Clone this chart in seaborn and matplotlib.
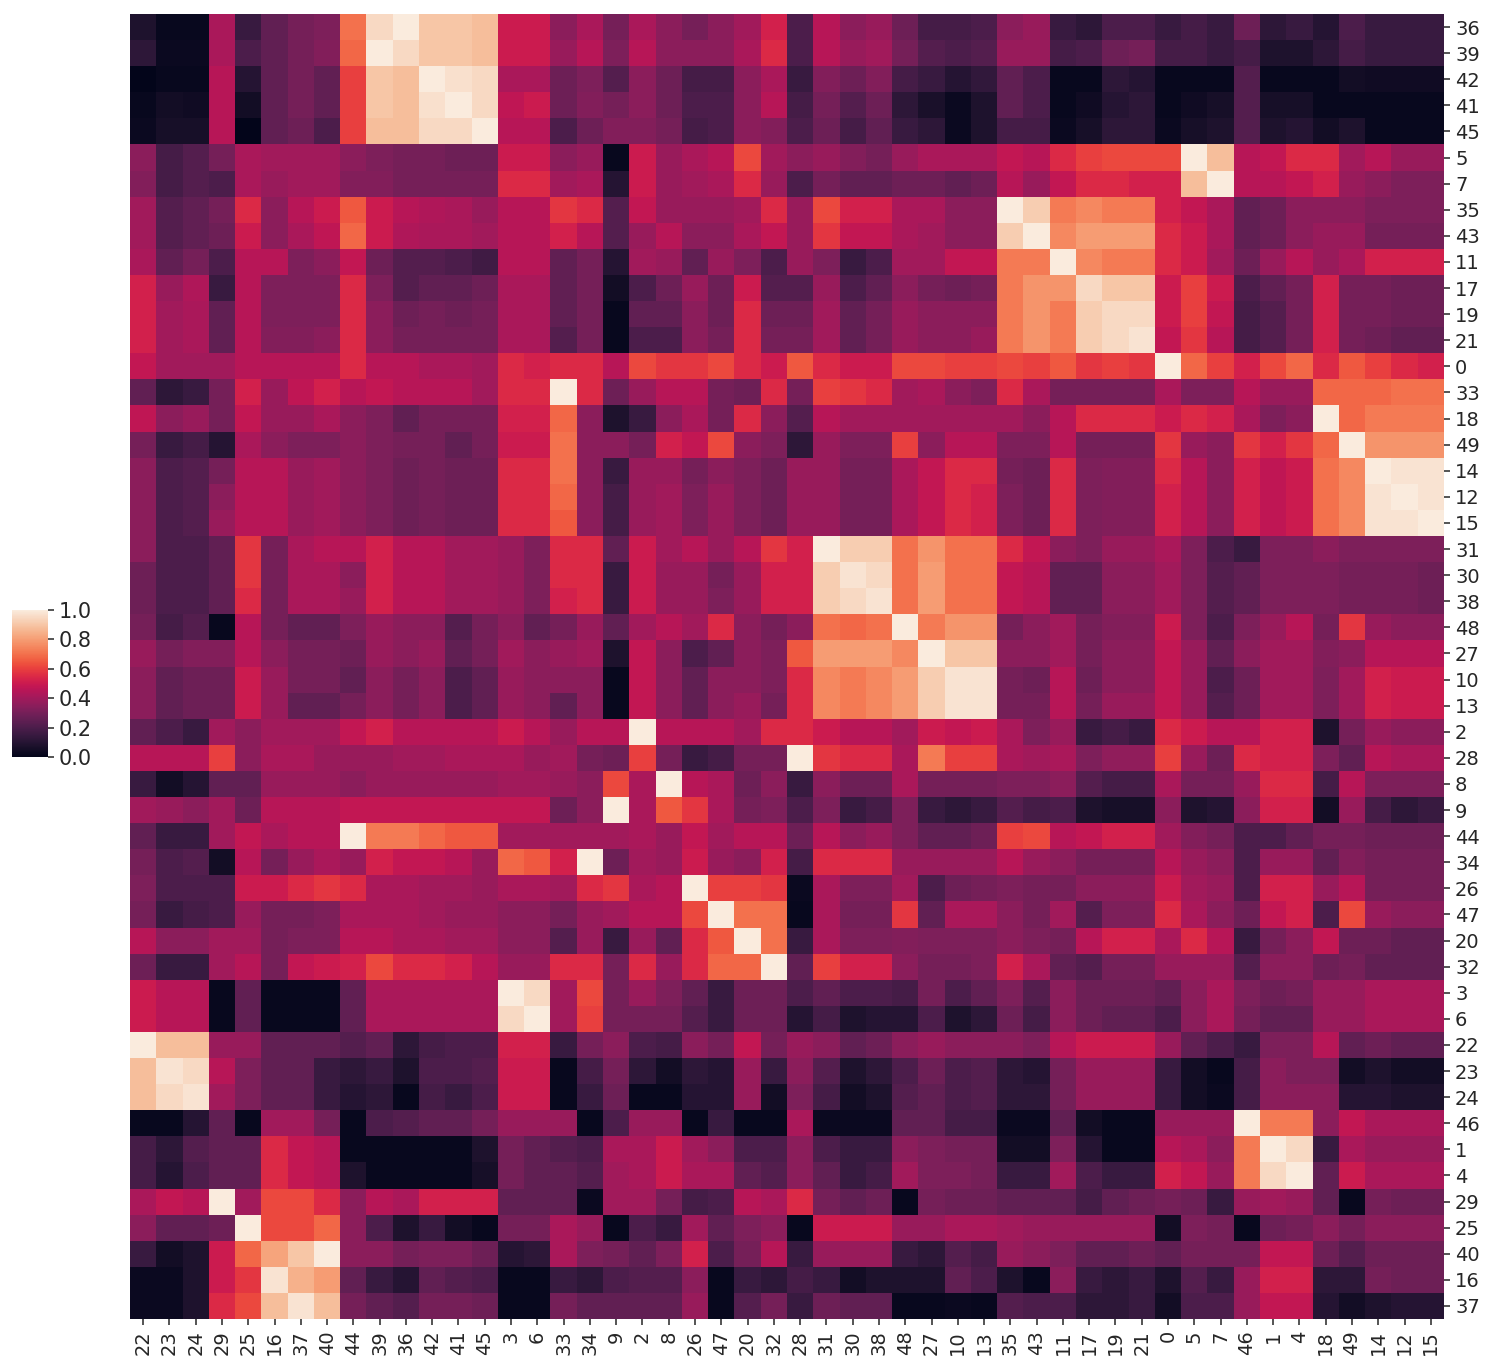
import numpy as np
import pandas as pd
import matplotlib
matplotlib.use("Agg")
import matplotlib.pyplot as plt
import seaborn as sns

# ------------------------------------------------------------
# labels in the (clustered) display order
# ------------------------------------------------------------
row_labels = [36, 39, 42, 41, 45, 5, 7, 35, 43, 11, 17, 19, 21, 0, 33, 18, 49, 14, 12, 15,
              31, 30, 38, 48, 27, 10, 13, 2, 28, 8, 9, 44, 34, 26, 47, 20, 32, 3, 6, 22,
              23, 24, 46, 1, 4, 29, 25, 40, 16, 37]
col_labels = [22, 23, 24, 29, 25, 16, 37, 40, 44, 39, 36, 42, 41, 45, 3, 6, 33, 34, 9, 2,
              8, 26, 47, 20, 32, 28, 31, 30, 38, 48, 27, 10, 13, 35, 43, 11, 17, 19, 21, 0,
              5, 7, 46, 1, 4, 18, 49, 14, 12, 15]

# correlation values in percent, one list per displayed row
corr_pct = [
    [8, 2, 2, 42, 15, 25, 30, 32, 70, 95, 100, 90, 90, 88, 50, 50, 35, 42, 30, 42, 35, 30, 35, 40, 52, 20, 45, 35, 38, 28, 18, 18, 20, 35, 38, 15, 12, 20, 20, 15, 18, 15, 28, 12, 15, 10, 20, 15, 15, 15],
    [12, 3, 3, 42, 20, 25, 30, 33, 68, 100, 95, 90, 90, 88, 50, 50, 38, 45, 32, 45, 35, 35, 35, 42, 55, 20, 45, 38, 40, 30, 22, 20, 22, 38, 38, 18, 20, 28, 30, 18, 18, 15, 18, 8, 8, 12, 18, 15, 15, 15],
    [0, 2, 2, 45, 10, 25, 30, 25, 60, 90, 88, 100, 97, 95, 42, 42, 28, 32, 22, 35, 28, 18, 18, 35, 42, 15, 33, 28, 33, 18, 15, 10, 13, 25, 20, 2, 2, 12, 10, 2, 2, 2, 22, 2, 2, 2, 5, 4, 4, 4],
    [2, 5, 4, 45, 5, 25, 30, 25, 60, 90, 88, 97, 100, 95, 47, 50, 28, 33, 30, 35, 28, 20, 20, 35, 45, 18, 30, 22, 28, 12, 7, 3, 8, 25, 20, 2, 4, 10, 12, 2, 4, 6, 22, 6, 6, 2, 2, 2, 2, 2],
    [3, 6, 6, 45, 0, 25, 28, 20, 60, 88, 88, 95, 95, 100, 45, 45, 20, 28, 33, 33, 30, 18, 20, 35, 33, 20, 28, 18, 25, 15, 12, 3, 8, 18, 18, 3, 6, 12, 12, 3, 6, 8, 22, 8, 10, 5, 8, 2, 2, 2],
    [35, 18, 22, 30, 42, 40, 40, 40, 35, 32, 30, 30, 28, 28, 50, 50, 35, 38, 2, 50, 38, 42, 45, 62, 40, 35, 38, 33, 30, 38, 42, 42, 42, 48, 45, 55, 60, 62, 62, 62, 100, 88, 45, 48, 55, 55, 40, 45, 38, 38],
    [33, 18, 22, 20, 42, 38, 40, 40, 33, 33, 30, 30, 30, 30, 55, 55, 40, 42, 10, 50, 38, 40, 42, 55, 38, 20, 30, 25, 25, 28, 28, 25, 28, 45, 38, 48, 55, 55, 52, 52, 88, 100, 45, 45, 48, 52, 38, 35, 32, 32],
    [40, 22, 25, 30, 55, 35, 45, 50, 65, 50, 45, 43, 42, 38, 45, 45, 58, 55, 22, 48, 38, 38, 38, 40, 55, 38, 62, 52, 52, 42, 42, 35, 35, 100, 92, 72, 75, 72, 72, 52, 48, 42, 25, 28, 35, 35, 35, 32, 32, 32],
    [40, 22, 25, 28, 50, 35, 42, 47, 68, 50, 43, 42, 42, 40, 45, 45, 52, 45, 22, 38, 45, 35, 35, 42, 48, 38, 58, 48, 48, 42, 40, 35, 35, 92, 100, 75, 80, 80, 80, 55, 50, 42, 25, 28, 35, 38, 38, 30, 30, 30],
    [42, 25, 30, 20, 45, 45, 32, 35, 48, 28, 22, 22, 20, 17, 45, 45, 25, 30, 10, 40, 38, 25, 38, 32, 20, 38, 32, 15, 20, 40, 40, 48, 48, 72, 72, 100, 75, 72, 72, 55, 50, 40, 28, 38, 45, 38, 42, 52, 52, 52],
    [52, 38, 43, 15, 45, 32, 32, 32, 55, 32, 22, 25, 25, 28, 42, 42, 25, 30, 5, 20, 28, 38, 28, 50, 22, 22, 38, 20, 25, 35, 30, 28, 30, 72, 78, 78, 95, 90, 90, 50, 60, 50, 20, 25, 30, 52, 30, 30, 28, 28],
    [52, 40, 42, 25, 45, 32, 32, 32, 55, 35, 28, 30, 28, 30, 42, 42, 25, 30, 2, 25, 25, 35, 28, 55, 28, 28, 40, 25, 30, 38, 35, 35, 35, 72, 78, 72, 92, 95, 95, 50, 60, 48, 18, 22, 30, 52, 30, 30, 28, 28],
    [52, 40, 42, 25, 45, 33, 33, 35, 55, 35, 30, 30, 30, 30, 42, 42, 22, 30, 2, 20, 20, 35, 30, 55, 30, 30, 40, 25, 30, 38, 35, 35, 38, 72, 78, 72, 92, 95, 98, 48, 58, 45, 18, 22, 30, 52, 30, 28, 25, 25],
    [48, 40, 40, 40, 45, 45, 45, 45, 55, 45, 45, 42, 42, 40, 55, 52, 55, 55, 45, 62, 58, 58, 62, 55, 50, 65, 55, 50, 50, 62, 62, 60, 60, 62, 60, 65, 58, 60, 58, 100, 68, 60, 52, 62, 68, 55, 65, 60, 55, 52],
    [25, 12, 15, 30, 52, 38, 47, 52, 45, 48, 45, 45, 45, 40, 55, 55, 100, 55, 28, 38, 45, 45, 30, 28, 55, 30, 60, 58, 55, 40, 42, 35, 32, 55, 42, 30, 30, 30, 30, 42, 32, 32, 45, 38, 38, 68, 68, 68, 70, 70],
    [47, 35, 38, 30, 48, 38, 38, 42, 35, 32, 25, 30, 30, 30, 52, 52, 68, 35, 8, 15, 35, 42, 30, 55, 35, 22, 45, 40, 40, 40, 40, 40, 40, 40, 35, 45, 55, 55, 55, 50, 55, 52, 42, 32, 35, 100, 68, 72, 72, 72],
    [30, 15, 18, 10, 42, 35, 32, 32, 35, 32, 30, 30, 25, 30, 50, 50, 70, 35, 35, 30, 52, 48, 62, 35, 32, 12, 38, 32, 32, 60, 35, 45, 45, 32, 32, 45, 30, 30, 30, 58, 38, 35, 58, 52, 58, 68, 100, 78, 78, 78],
    [35, 20, 22, 30, 45, 45, 38, 40, 35, 32, 28, 30, 28, 28, 55, 55, 70, 35, 15, 38, 38, 30, 35, 32, 28, 38, 38, 30, 30, 42, 48, 55, 55, 30, 28, 55, 32, 33, 33, 55, 45, 35, 52, 47, 50, 70, 75, 100, 98, 98],
    [35, 20, 22, 35, 45, 45, 38, 40, 35, 32, 28, 30, 28, 28, 55, 55, 68, 35, 18, 38, 40, 32, 38, 32, 28, 38, 38, 30, 30, 42, 48, 55, 52, 32, 28, 55, 32, 33, 33, 52, 45, 35, 52, 47, 50, 70, 75, 98, 100, 98],
    [35, 20, 22, 38, 45, 45, 38, 40, 35, 32, 28, 30, 28, 28, 55, 55, 65, 35, 18, 38, 40, 32, 38, 32, 28, 38, 38, 30, 30, 42, 48, 55, 52, 32, 28, 55, 32, 33, 33, 52, 45, 35, 52, 47, 50, 70, 75, 98, 98, 100],
    [35, 20, 20, 25, 58, 30, 42, 45, 45, 52, 45, 45, 40, 40, 38, 32, 55, 55, 25, 50, 40, 45, 38, 45, 58, 52, 100, 92, 92, 70, 78, 70, 70, 55, 48, 35, 32, 38, 38, 42, 32, 20, 15, 32, 32, 35, 32, 32, 32, 32],
    [28, 20, 20, 25, 58, 30, 42, 42, 35, 52, 45, 45, 40, 40, 38, 32, 55, 55, 15, 50, 38, 38, 30, 38, 52, 52, 92, 98, 95, 70, 80, 70, 70, 48, 45, 25, 25, 35, 35, 40, 32, 22, 25, 32, 32, 32, 30, 30, 30, 28],
    [28, 20, 20, 25, 55, 30, 42, 42, 38, 52, 45, 45, 40, 40, 38, 32, 52, 55, 15, 50, 38, 38, 32, 38, 52, 52, 92, 95, 98, 70, 80, 70, 70, 48, 45, 25, 25, 35, 35, 40, 32, 22, 25, 32, 32, 32, 30, 30, 30, 28],
    [30, 18, 22, 2, 45, 30, 25, 25, 32, 38, 35, 35, 22, 30, 35, 25, 30, 38, 25, 40, 45, 40, 55, 35, 30, 35, 70, 68, 70, 100, 72, 78, 78, 30, 35, 40, 30, 33, 33, 50, 32, 20, 32, 38, 45, 30, 58, 38, 35, 35],
    [38, 30, 33, 33, 45, 35, 30, 30, 28, 38, 35, 38, 25, 30, 40, 35, 38, 40, 8, 48, 35, 20, 25, 35, 32, 65, 80, 80, 80, 75, 100, 90, 90, 35, 35, 40, 30, 35, 35, 48, 38, 25, 35, 40, 40, 33, 35, 45, 45, 45],
    [35, 25, 28, 28, 50, 38, 30, 30, 25, 35, 30, 35, 20, 25, 38, 35, 35, 35, 2, 48, 35, 25, 35, 35, 32, 55, 75, 72, 75, 80, 92, 98, 98, 30, 28, 45, 28, 35, 35, 48, 38, 20, 28, 40, 40, 32, 40, 52, 50, 50],
    [35, 25, 28, 28, 50, 38, 25, 25, 30, 35, 30, 35, 20, 25, 38, 35, 25, 35, 2, 48, 35, 25, 35, 38, 30, 55, 75, 72, 75, 80, 92, 98, 98, 30, 30, 45, 30, 38, 38, 48, 38, 22, 28, 40, 40, 32, 40, 52, 50, 50],
    [25, 20, 15, 40, 35, 40, 40, 40, 48, 52, 45, 45, 45, 45, 50, 45, 38, 45, 45, 100, 45, 45, 45, 40, 55, 55, 50, 45, 45, 40, 50, 48, 50, 42, 32, 38, 15, 18, 15, 55, 50, 45, 45, 52, 52, 8, 30, 38, 35, 35],
    [45, 45, 45, 60, 35, 42, 42, 38, 38, 38, 40, 40, 42, 42, 42, 38, 40, 30, 28, 60, 30, 15, 18, 30, 30, 100, 58, 55, 55, 42, 72, 60, 60, 42, 40, 42, 32, 36, 36, 60, 38, 28, 55, 52, 52, 32, 25, 45, 42, 42],
    [15, 5, 10, 25, 25, 38, 38, 38, 35, 38, 38, 38, 38, 38, 40, 40, 38, 35, 62, 42, 100, 45, 42, 28, 35, 15, 35, 28, 28, 42, 30, 30, 30, 32, 32, 35, 22, 18, 18, 42, 30, 30, 38, 55, 55, 18, 45, 32, 32, 32],
    [40, 38, 35, 40, 28, 45, 45, 45, 48, 48, 48, 48, 48, 48, 48, 48, 28, 35, 100, 42, 65, 58, 42, 30, 32, 20, 32, 15, 18, 32, 15, 12, 15, 22, 18, 20, 8, 6, 6, 35, 8, 10, 35, 52, 52, 5, 38, 18, 12, 15],
    [25, 15, 15, 40, 48, 42, 45, 45, 100, 72, 72, 68, 65, 65, 40, 40, 40, 40, 40, 42, 38, 48, 40, 45, 45, 28, 45, 35, 38, 32, 25, 25, 28, 60, 62, 45, 48, 52, 52, 40, 33, 30, 20, 20, 25, 30, 30, 28, 28, 28],
    [30, 20, 22, 5, 45, 30, 38, 42, 38, 52, 48, 48, 45, 38, 68, 65, 52, 100, 28, 40, 38, 50, 38, 35, 52, 18, 55, 55, 55, 38, 38, 38, 38, 45, 38, 35, 30, 30, 30, 45, 38, 35, 20, 38, 38, 25, 33, 30, 30, 30],
    [32, 20, 20, 20, 50, 50, 55, 58, 55, 42, 42, 40, 40, 38, 42, 42, 40, 55, 58, 42, 45, 100, 60, 60, 58, 3, 42, 32, 32, 40, 20, 28, 30, 32, 30, 30, 35, 35, 35, 50, 40, 38, 20, 52, 52, 38, 45, 30, 30, 30],
    [30, 15, 18, 20, 38, 30, 30, 32, 42, 42, 42, 40, 38, 38, 35, 35, 30, 38, 40, 45, 45, 62, 100, 70, 70, 2, 42, 30, 30, 58, 25, 42, 42, 35, 30, 40, 22, 32, 32, 55, 42, 35, 28, 48, 52, 20, 62, 38, 35, 35],
    [45, 35, 35, 40, 40, 30, 32, 32, 45, 45, 42, 42, 40, 40, 35, 35, 22, 38, 15, 38, 25, 55, 65, 100, 70, 15, 42, 32, 32, 33, 32, 32, 32, 35, 32, 30, 45, 52, 52, 42, 55, 45, 15, 30, 35, 48, 28, 28, 25, 25],
    [28, 15, 15, 40, 45, 30, 48, 50, 52, 62, 55, 55, 52, 45, 38, 38, 55, 55, 30, 55, 38, 55, 68, 68, 100, 25, 60, 52, 52, 35, 30, 30, 32, 52, 42, 25, 22, 30, 30, 38, 38, 38, 22, 35, 35, 28, 30, 25, 25, 25],
    [50, 45, 45, 2, 25, 2, 2, 2, 25, 42, 42, 42, 42, 42, 100, 95, 40, 62, 30, 38, 32, 25, 15, 28, 28, 20, 25, 20, 20, 18, 30, 20, 25, 32, 22, 35, 28, 28, 28, 25, 35, 42, 32, 28, 30, 38, 38, 42, 42, 42],
    [50, 45, 45, 2, 25, 2, 2, 2, 25, 42, 42, 42, 42, 42, 95, 100, 40, 60, 30, 30, 30, 22, 15, 28, 28, 10, 18, 8, 10, 10, 20, 8, 12, 28, 18, 35, 28, 25, 25, 20, 35, 42, 30, 25, 25, 38, 38, 42, 42, 42],
    [100, 88, 88, 38, 38, 25, 25, 25, 22, 25, 12, 18, 20, 20, 52, 52, 15, 30, 35, 20, 18, 35, 30, 48, 30, 38, 35, 25, 28, 35, 38, 35, 35, 35, 32, 45, 50, 50, 50, 38, 25, 20, 15, 32, 32, 45, 25, 28, 25, 25],
    [88, 98, 95, 45, 32, 25, 25, 15, 12, 15, 8, 20, 20, 22, 50, 50, 2, 18, 30, 12, 5, 12, 10, 38, 15, 35, 22, 8, 12, 20, 28, 20, 22, 12, 10, 30, 38, 38, 38, 15, 5, 2, 18, 35, 32, 32, 5, 8, 5, 5],
    [88, 95, 98, 40, 32, 25, 25, 15, 10, 12, 2, 18, 15, 20, 50, 50, 2, 15, 28, 2, 2, 10, 10, 38, 5, 32, 18, 5, 8, 22, 25, 20, 22, 12, 12, 30, 38, 38, 38, 15, 5, 3, 18, 35, 35, 35, 10, 10, 8, 8],
    [2, 2, 10, 25, 2, 40, 40, 30, 2, 20, 22, 25, 25, 30, 38, 38, 38, 2, 20, 38, 38, 2, 15, 2, 2, 42, 3, 3, 3, 25, 25, 18, 18, 3, 3, 25, 5, 2, 2, 38, 38, 38, 100, 72, 72, 35, 48, 42, 42, 42],
    [18, 12, 22, 25, 25, 55, 48, 45, 2, 2, 2, 2, 2, 8, 30, 25, 22, 20, 42, 42, 50, 40, 35, 20, 20, 35, 20, 15, 15, 35, 32, 30, 30, 5, 5, 32, 10, 2, 2, 45, 42, 35, 72, 100, 95, 15, 42, 38, 38, 38],
    [18, 10, 20, 25, 25, 55, 48, 45, 8, 2, 2, 2, 2, 6, 30, 25, 25, 22, 40, 42, 50, 42, 42, 25, 22, 35, 25, 15, 18, 40, 32, 32, 30, 15, 15, 40, 20, 15, 15, 52, 48, 38, 72, 95, 100, 25, 50, 42, 42, 42],
    [42, 48, 45, 100, 40, 62, 62, 55, 35, 45, 42, 52, 52, 52, 25, 25, 25, 3, 40, 40, 30, 18, 20, 45, 42, 55, 30, 25, 28, 2, 30, 28, 28, 25, 25, 25, 18, 25, 28, 30, 28, 15, 38, 40, 38, 25, 2, 30, 28, 28],
    [35, 25, 25, 28, 100, 62, 62, 68, 35, 20, 8, 15, 5, 2, 30, 30, 42, 38, 2, 20, 15, 40, 25, 32, 35, 2, 50, 50, 50, 38, 38, 42, 42, 40, 38, 38, 38, 38, 38, 5, 32, 30, 2, 28, 30, 35, 30, 35, 35, 35],
    [15, 5, 8, 50, 68, 82, 90, 100, 35, 35, 30, 32, 32, 28, 10, 12, 42, 32, 30, 25, 32, 52, 20, 30, 45, 15, 38, 38, 38, 15, 12, 22, 18, 38, 35, 32, 25, 25, 28, 25, 30, 30, 30, 48, 48, 28, 22, 28, 28, 28],
    [3, 3, 8, 50, 58, 98, 85, 80, 25, 15, 10, 25, 22, 20, 2, 2, 15, 12, 20, 22, 22, 35, 2, 15, 12, 18, 15, 5, 8, 8, 8, 25, 20, 8, 2, 35, 15, 12, 15, 8, 22, 15, 38, 52, 52, 12, 12, 30, 28, 28],
    [3, 3, 8, 55, 62, 88, 98, 88, 30, 25, 22, 30, 30, 28, 2, 2, 30, 25, 25, 25, 25, 38, 2, 22, 30, 15, 28, 25, 25, 2, 2, 3, 2, 22, 20, 20, 12, 12, 15, 5, 20, 20, 38, 48, 48, 10, 5, 8, 10, 10],
]

cbar_ticks = [0.0, 0.2, 0.4, 0.6, 0.8, 1.0]

corr = pd.DataFrame(np.array(corr_pct) / 100.0, index=row_labels, columns=col_labels)

sns.set_theme(style="ticks", font_scale=1.4)
plt.rcParams["font.family"] = ["DejaVu Sans"]

fig = plt.figure(figsize=(14.94, 13.7), dpi=100)
ax = fig.add_axes([0.087, 0.0372, 0.8795, 0.9526])
cax = fig.add_axes([0.008, 0.4474, 0.0241, 0.1073])

sns.heatmap(corr, ax=ax, cbar_ax=cax, cmap="rocket", vmin=0, vmax=1,
            xticklabels=col_labels, yticklabels=row_labels,
            cbar_kws={"ticks": cbar_ticks})

# row labels on the right like a clustermap
ax.yaxis.tick_right()
ax.yaxis.set_label_position("right")
ax.tick_params(axis="y", which="major", labelrotation=0, labelsize=14,
               length=4.5, width=1.1, right=True, left=False)
ax.tick_params(axis="x", which="major", labelrotation=90, labelsize=14,
               length=4.5, width=1.1)
ax.set_xlabel("")
ax.set_ylabel("")

# faint marks on the left edge
ax.set_yticks(np.arange(len(row_labels)) + 0.5, minor=True)
ax.tick_params(axis="y", which="minor", left=True, right=False, length=2,
               width=1, color="0.8")

cax.tick_params(labelsize=15, length=4.5, width=1.1)
cax.set_yticklabels([f"{t:.1f}" for t in cbar_ticks])

fig.savefig("out.png", dpi=100)
